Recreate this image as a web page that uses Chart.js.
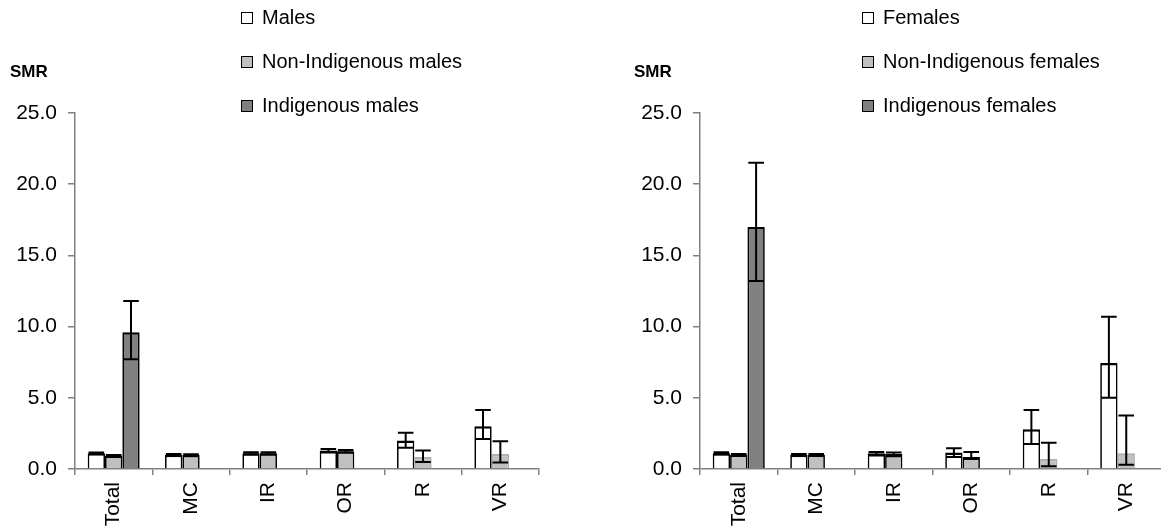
<!DOCTYPE html>
<html>
<head>
<meta charset="utf-8">
<script src="https://cdn.jsdelivr.net/npm/chart.js@4.4.1/dist/chart.umd.min.js"></script>
<style>
  html, body { margin: 0; padding: 0; background: #fff; overflow: hidden; }
  body { width: 1161px; height: 530px; position: relative; font-family: 'Liberation Sans', Arial, sans-serif; }
  canvas { position: absolute; top: 0; }
  #c-males { left: 0; }
  #c-females { left: 625px; }
  .smr { position: absolute; top: 62px; font-weight: bold; font-size: 17px; color: #000; }
  .legend { position: absolute; top: 4px; font-size: 20px; color: #000; }
  .legend div { height: 44px; line-height: 26px; white-space: nowrap; }
  .legend span.box { display: inline-block; width: 10px; height: 10px; border: 1.5px solid #000; margin-right: 9px; vertical-align: 0px; }
</style>
</head>
<body>
<canvas id="c-males" width="580" height="530"></canvas>
<canvas id="c-females" width="560" height="530"></canvas>

<div class="smr" style="left:10px">SMR</div>
<div class="smr" style="left:634px">SMR</div>
<div class="legend" id="leg-males" style="left:241px"></div>
<div class="legend" id="leg-females" style="left:862px"></div>

<script>
// categories
const CATEGORIES = ['Total', 'MC', 'IR', 'OR', 'R', 'VR'];
const Y_TICKS_MAX = 25;

// males panel
const MALES        = [1.1, 1.0, 1.1, 1.3, 2.0, 3.0];
const MALES_LO     = [1.05, 0.95, 1.02, 1.15, 1.5, 2.1];
const MALES_HI     = [1.15, 1.05, 1.18, 1.4, 2.55, 4.15];
const NONIND_M     = [0.95, 0.98, 1.1, 1.25, 0.85, 1.05];
const NONIND_M_LO  = [0.92, 0.93, 1.02, 1.15, 0.5, 0.45];
const NONIND_M_HI  = [0.98, 1.03, 1.18, 1.33, 1.3, 1.95];
const IND_M        = [9.6, null, null, null, null, null];
const IND_M_LO     = [7.7, null, null, null, null, null];
const IND_M_HI     = [11.8, null, null, null, null, null];

// females panel
const FEMALES       = [1.1, 1.0, 1.1, 1.15, 2.8, 7.45];
const FEMALES_LO    = [1.03, 0.95, 0.95, 0.85, 1.75, 5.0];
const FEMALES_HI    = [1.17, 1.05, 1.2, 1.45, 4.15, 10.7];
const NONIND_F      = [1.0, 1.0, 1.05, 0.85, 0.7, 1.1];
const NONIND_F_LO   = [0.95, 0.95, 0.9, 0.7, 0.2, 0.3];
const NONIND_F_HI   = [1.05, 1.05, 1.15, 1.2, 1.85, 3.75];
const IND_F         = [17.0, null, null, null, null, null];
const IND_F_LO      = [13.2, null, null, null, null, null];
const IND_F_HI      = [21.5, null, null, null, null, null];

const FILLS = ['#FFFFFF', '#C0C0C0', '#808080'];
const FONT = "'Liberation Sans', Arial, sans-serif";

// ── Error bars (drawn on top of the bars) ──────────────────────────────────
const errorBars = {
  id: 'errorBars',
  afterDatasetsDraw(chart) {
    const { ctx } = chart;
    const y = chart.scales.y;
    chart.data.datasets.forEach((ds, i) => {
      if (!ds.errLo) return;
      const meta = chart.getDatasetMeta(i);
      meta.data.forEach((bar, j) => {
        const lo = ds.errLo[j], hi = ds.errHi[j];
        if (lo == null || hi == null) return;
        const yl = y.getPixelForValue(lo);
        const yh = y.getPixelForValue(hi);
        const half = bar.width * 0.45;
        ctx.save();
        ctx.strokeStyle = '#000';
        ctx.lineWidth = 2;
        ctx.beginPath();
        ctx.moveTo(bar.x, yl); ctx.lineTo(bar.x, yh);
        ctx.moveTo(bar.x - half, yh); ctx.lineTo(bar.x + half, yh);
        ctx.moveTo(bar.x - half, yl); ctx.lineTo(bar.x + half, yl);
        ctx.stroke();
        ctx.restore();
      });
    });
  },
};

function dataset(label, values, lo, hi, idx) {
  return {
    label,
    data: values,
    errLo: lo,
    errHi: hi,
    backgroundColor: FILLS[idx],
    // small non-indigenous bars in R / VR have no dark outline in the original
    borderColor: ctx => (idx === 1 && ctx.dataIndex >= 4) ? '#B0B0B0' : '#000000',
    borderWidth: { top: 2.5, left: 1.7, right: 1.7, bottom: 0 },
    barPercentage: 1.0,
    categoryPercentage: 0.672,
  };
}

function makeChart(canvasId, datasets, rightPad) {
  return new Chart(document.getElementById(canvasId), {
    type: 'bar',
    data: { labels: CATEGORIES, datasets },
    plugins: [errorBars],
    options: {
      responsive: false,
      animation: false,
      layout: { padding: { top: 113, right: rightPad, left: 0, bottom: 0 } },
      plugins: { legend: { display: false }, tooltip: { enabled: false } },
      scales: {
        x: {
          afterFit: s => { s.height = 61; },
          border: { display: true, color: '#808080', width: 1.5 },
          grid: { offset: true, drawOnChartArea: false, drawTicks: true, tickLength: 6, color: '#808080', lineWidth: 1.5 },
          ticks: {
            color: '#000',
            font: { family: FONT, size: 21 },
            minRotation: 90,
            maxRotation: 90,
            padding: 7,
            autoSkip: false,
          },
        },
        y: {
          min: 0,
          max: Y_TICKS_MAX,
          afterFit: s => { s.width = 75; },
          border: { display: true, color: '#808080', width: 1.5 },
          grid: { drawOnChartArea: false, drawTicks: true, tickLength: 7, color: '#808080', lineWidth: 1.5 },
          ticks: {
            stepSize: 5,
            color: '#000',
            font: { family: FONT, size: 21 },
            padding: 11,
            callback: v => v.toFixed(1),
          },
        },
      },
    },
  });
}

makeChart('c-males', [
  dataset('Males', MALES, MALES_LO, MALES_HI, 0),
  dataset('Non-Indigenous males', NONIND_M, NONIND_M_LO, NONIND_M_HI, 1),
  dataset('Indigenous males', IND_M, IND_M_LO, IND_M_HI, 2),
], 41);

makeChart('c-females', [
  dataset('Females', FEMALES, FEMALES_LO, FEMALES_HI, 0),
  dataset('Non-Indigenous females', NONIND_F, NONIND_F_LO, NONIND_F_HI, 1),
  dataset('Indigenous females', IND_F, IND_F_LO, IND_F_HI, 2),
], 20);

// ── HTML legends (stacked vertically like the original) ────────────────────
function buildLegend(id, labels) {
  const el = document.getElementById(id);
  labels.forEach((text, i) => {
    const row = document.createElement('div');
    const box = document.createElement('span');
    box.className = 'box';
    box.style.background = FILLS[i];
    row.appendChild(box);
    row.appendChild(document.createTextNode(text));
    el.appendChild(row);
  });
}
buildLegend('leg-males', ['Males', 'Non-Indigenous males', 'Indigenous males']);
buildLegend('leg-females', ['Females', 'Non-Indigenous females', 'Indigenous females']);
</script>
</body>
</html>
